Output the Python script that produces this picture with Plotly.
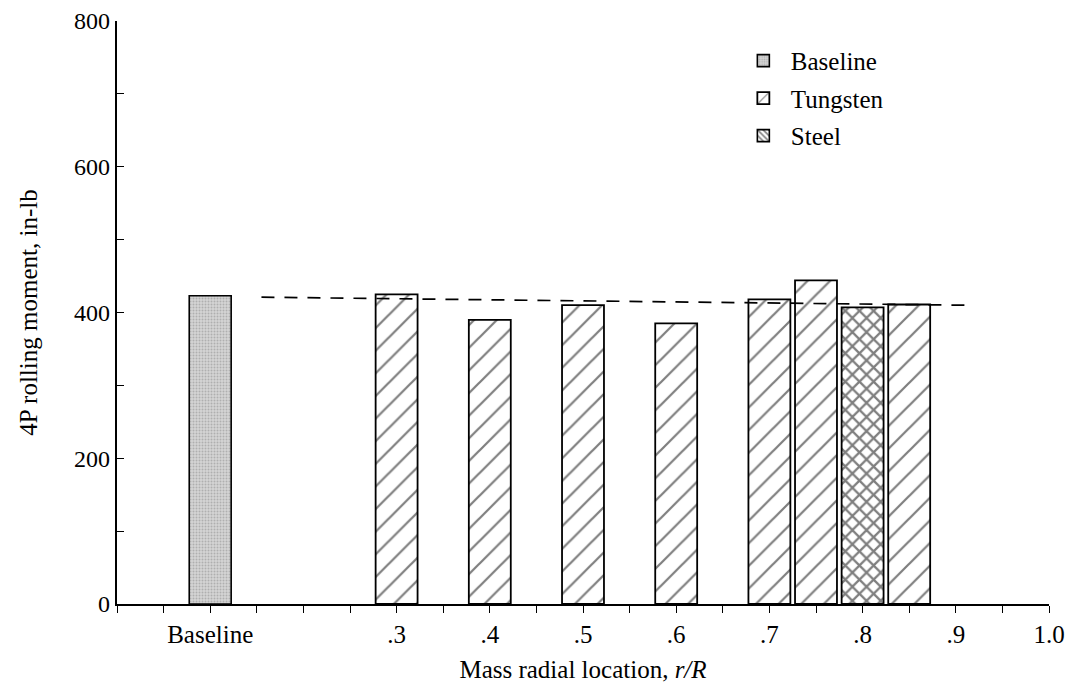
import plotly.graph_objects as go

# ---- data ----
baseline_x = [0.1]
baseline_y = [423]
tungsten_x = [0.3, 0.4, 0.5, 0.6, 0.7, 0.75, 0.85]
tungsten_y = [425, 390, 410, 385, 418, 444, 411]
steel_x = [0.8]
steel_y = [407]
ref_x = [0.155, 0.91]
ref_y = [421, 410]
tick_vals = [round(i * 0.05, 2) for i in range(21)]
tick_label_map = {0.1: "Baseline", 0.3: ".3", 0.4: ".4", 0.5: ".5", 0.6: ".6",
                  0.7: ".7", 0.8: ".8", 0.9: ".9", 1.0: "1.0"}
tick_text = [tick_label_map.get(v, "") for v in tick_vals]

FONT = "Liberation Serif, Times New Roman, serif"
BAR_W = 0.045

fig = go.Figure()

fig.add_trace(go.Bar(
    x=baseline_x, y=baseline_y, width=BAR_W, name="Baseline",
    legendgroup="a",
    marker=dict(color="#cfcfcf", line=dict(color="black", width=1.6),
                pattern=dict(shape=".", fgcolor="#8a8a8a", bgcolor="#d4d4d4",
                             size=3, solidity=0.35)),
))
fig.add_trace(go.Bar(
    x=tungsten_x, y=tungsten_y, width=BAR_W, name="Tungsten",
    legendgroup="b",
    marker=dict(color="white", line=dict(color="black", width=1.8),
                pattern=dict(shape="/", fgcolor="black", bgcolor="white",
                             size=16, solidity=0.14)),
))
fig.add_trace(go.Bar(
    x=steel_x, y=steel_y, width=BAR_W, name="Steel", showlegend=False,
    legendgroup="c",
    marker=dict(color="white", line=dict(color="black", width=1.8),
                pattern=dict(shape="x", fgcolor="black", bgcolor="white",
                             size=10, solidity=0.4)),
))
# legend entry for Steel (legend swatch drawn with single hatch as in original)
fig.add_trace(go.Bar(
    x=[None], y=[None], name="Steel", legendgroup="c",
    marker=dict(color="white", line=dict(color="black", width=1.6),
                pattern=dict(shape="\\", fgcolor="black", bgcolor="white",
                             size=5, solidity=0.4)),
))
fig.add_trace(go.Scatter(
    x=ref_x, y=ref_y, mode="lines", showlegend=False,
    line=dict(color="black", width=1.7, dash="13px,10px"),
))

fig.update_layout(
    width=1071, height=682,
    margin=dict(l=109, r=30, t=13, b=86),
    paper_bgcolor="white", plot_bgcolor="white",
    barmode="overlay",
    font=dict(family=FONT, size=25, color="black"),
    showlegend=True,
    legend=dict(x=0.664, y=0.971, xanchor="left", yanchor="top",
                bgcolor="rgba(0,0,0,0)", font=dict(family=FONT, size=25),
                itemwidth=45, tracegroupgap=2, traceorder="grouped"),
    xaxis=dict(
        range=[0, 1.0], tickmode="array", tickvals=tick_vals, ticktext=tick_text,
        ticks="outside", ticklen=7, tickwidth=1.4, tickcolor="black",
        showline=True, linecolor="black", linewidth=1.8,
        showgrid=False, zeroline=False, automargin=False,
        tickfont=dict(family=FONT, size=25),
        title=dict(text="Mass radial location, <i>r/R</i>",
                   font=dict(family=FONT, size=25), standoff=14),
    ),
    yaxis=dict(
        range=[0, 800], tickmode="array", tickvals=list(range(0, 801, 100)),
        ticktext=["0", "", "200", "", "400", "", "600", "", "800"],
        ticks="inside", ticklen=7, tickwidth=1.4, tickcolor="black",
        showline=True, linecolor="black", linewidth=2.4,
        showgrid=False, zeroline=False, automargin=False,
        tickfont=dict(family=FONT, size=24),
        title=dict(text="4P rolling moment, in-lb",
                   font=dict(family=FONT, size=25), standoff=29),
    ),
)

fig.write_html("out.html")
